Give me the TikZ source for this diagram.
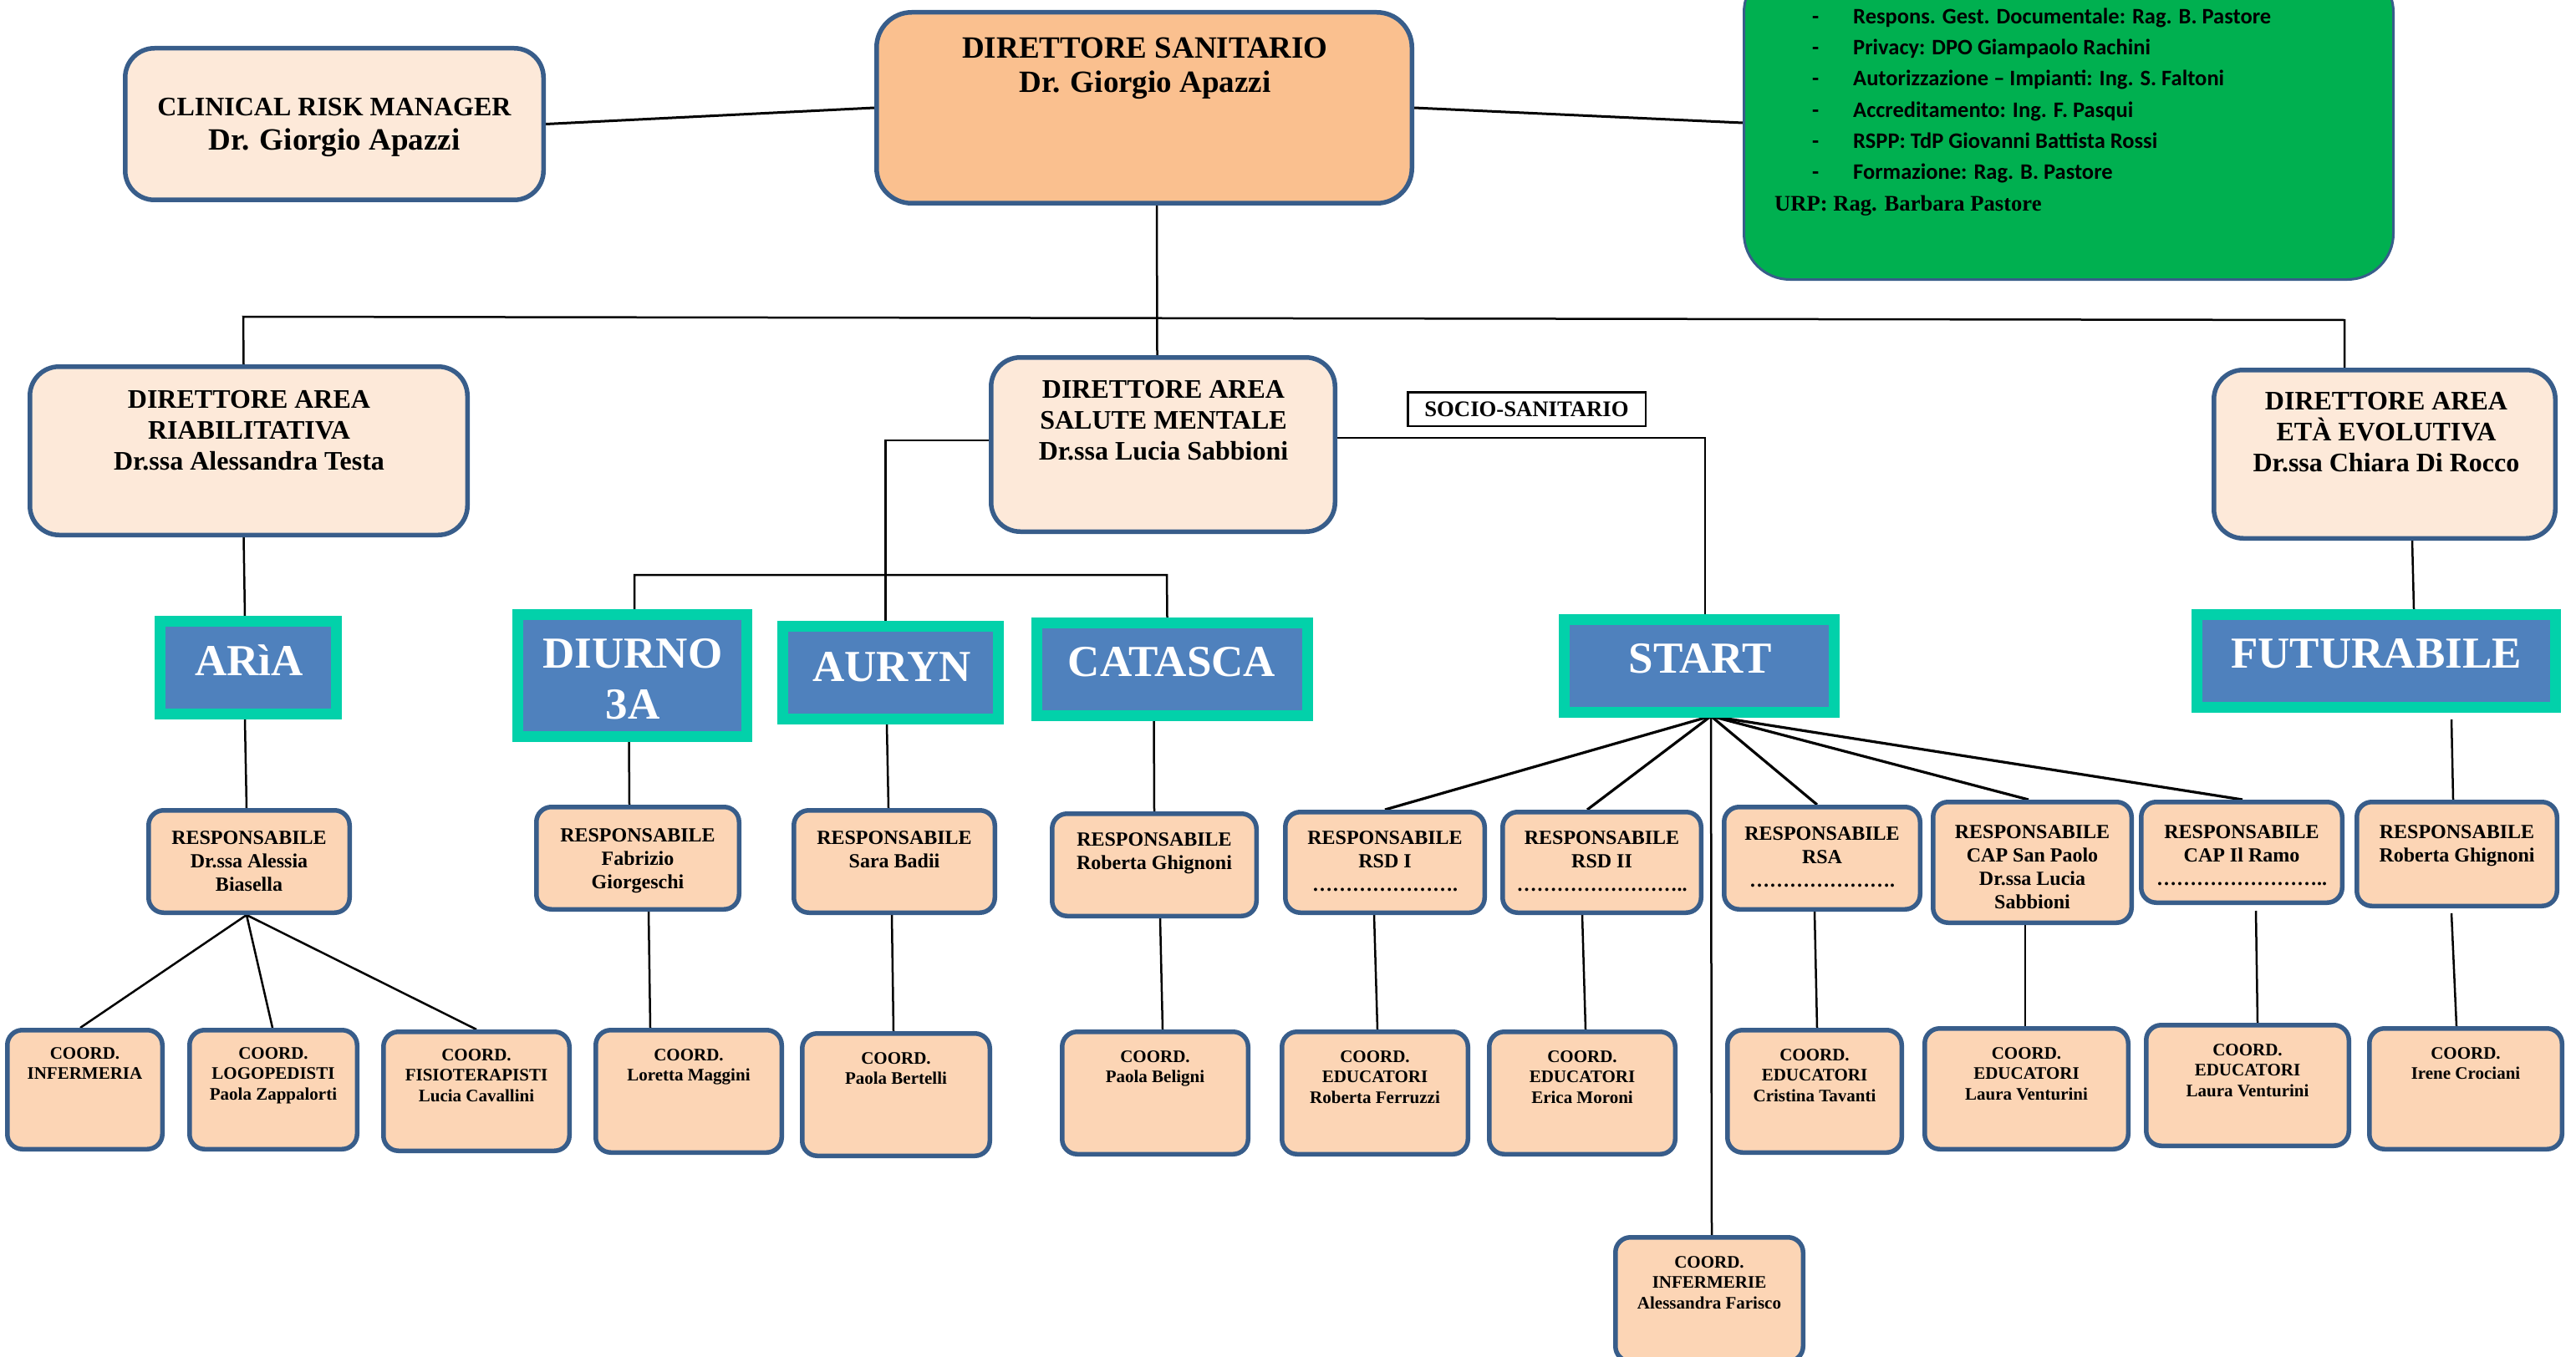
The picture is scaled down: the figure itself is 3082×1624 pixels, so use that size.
\documentclass[tikz,border=0pt]{standalone}
\usepackage{fontspec}
\setmainfont{Liberation Serif}
\newfontfamily\grfont{Carlito}
\usetikzlibrary{calc}
\pgfdeclarelayer{bg}
\pgfsetlayers{bg,main}
\definecolor{bordblue}{HTML}{385D8A}
\definecolor{palepeach}{HTML}{FDE9D9}
\definecolor{dspeach}{HTML}{FAC08F}
\definecolor{peach}{HTML}{FCD5B5}
\definecolor{tealb}{HTML}{02D1AA}
\definecolor{svcblue}{HTML}{4F81BD}
\definecolor{grn}{HTML}{00B050}
% style, name, x1, y1, x2, y2, line width
\newcommand\bx[7]{\node[#1, minimum width={#5-#3-#7}, minimum height={#6-#4-#7}] (#2) at ({(#3+#5)/2},{(#4+#6)/2}) {};}
\begin{document}
\begin{tikzpicture}[x=1pt,y=-1pt,
  topbox/.style={draw=bordblue,line width=5.5,fill=palepeach,rounded corners=35,inner sep=0},
  dsbox/.style={draw=bordblue,line width=5.5,fill=dspeach,rounded corners=42,inner sep=0},
  grbox/.style={draw=bordblue,line width=3,fill=grn,rounded corners=55,inner sep=0},
  rbox/.style={draw=bordblue,line width=5.5,fill=peach,rounded corners=18,inner sep=0},
  svc/.style={draw=tealb,fill=svcblue,line width=13,inner sep=0},
  socio/.style={draw=black,line width=2.5,fill=white,inner sep=0,font=\bfseries\fontsize{26.7}{30}\selectfont},
  conn/.style={draw=black,line width=2.5},
  conn3/.style={draw=black,line width=3},
  fanline/.style={draw=black,line width=3.2},
  bigt/.style={inner sep=0,align=center,anchor=north,font=\bfseries\fontsize{37}{41}\selectfont},
  areat/.style={inner sep=0,align=center,anchor=north,font=\bfseries\fontsize{32}{37}\selectfont},
  svct/.style={inner sep=0,align=center,text=white,font=\bfseries\fontsize{53}{61}\selectfont},
  rt/.style={inner sep=0,align=center,anchor=north,font=\bfseries\fontsize{24}{28}\selectfont},
  ct/.style={inner sep=0,align=center,anchor=north,font=\bfseries\fontsize{21}{24.5}\selectfont},
  grt/.style={inner sep=0,anchor=base west,font=\grfont\bfseries\fontsize{26.5}{37}\selectfont},
]
\path[use as bounding box] (0,0) rectangle (3082,1624);
\clip (0,0) rectangle (3082,1624);

% ---------- top row ----------
\bx{topbox}{crm}{147}{55}{653}{242}{5.5}
\bx{dsbox}{ds}{1046}{12}{1692}{246}{5.5}
\bx{grbox}{green}{2085}{-42}{2865}{336}{3}
\node[inner sep=0,anchor=base,font=\bfseries\fontsize{32}{37}\selectfont] (crm1) at (400,138.6) {CLINICAL RISK MANAGER};
\node[inner sep=0,anchor=base,font=\bfseries\fontsize{37}{41}\selectfont] (crm2) at (400,180) {Dr. Giorgio Apazzi};
\node[bigt] (dst) at (1370,44.7) {DIRETTORE SANITARIO\\Dr. Giorgio Apazzi};

\node[grt] (g1) at (2168,29) {\makebox[49pt][l]{-}Respons. Gest. Documentale: Rag. B. Pastore};
\node[grt] (g2) at (2168,66) {\makebox[49pt][l]{-}Privacy: DPO Giampaolo Rachini};
\node[grt] (g3) at (2168,103) {\makebox[49pt][l]{-}Autorizzazione – Impianti: Ing. S. Faltoni};
\node[grt] (g4) at (2168,141) {\makebox[49pt][l]{-}Accreditamento: Ing. F. Pasqui};
\node[grt] (g5) at (2168,178) {\makebox[49pt][l]{-}RSPP: TdP Giovanni Battista Rossi};
\node[grt] (g6) at (2168,215) {\makebox[49pt][l]{-}Formazione: Rag. B. Pastore};
\node[inner sep=0,anchor=base west,font=\bfseries\fontsize{26.6}{30}\selectfont] (urp) at (2123,253) {URP: Rag. Barbara Pastore};

% ---------- area directors ----------
\bx{topbox}{riab}{33}{436}{562}{643}{5.5}
\bx{topbox}{sm}{1183}{425}{1600}{639}{5.5}
\bx{topbox}{eta}{2646}{440}{3060}{647}{5.5}
\node[areat] (riabt) at (298,467) {DIRETTORE AREA\\RIABILITATIVA\\Dr.ssa Alessandra Testa};
\node[areat] (smt) at (1392,455) {DIRETTORE AREA\\SALUTE MENTALE\\Dr.ssa Lucia Sabbioni};
\node[areat] (etat) at (2855,469) {DIRETTORE AREA\\ETÀ EVOLUTIVA\\Dr.ssa Chiara Di Rocco};
\node[socio, minimum width=284.5, minimum height=40.5] (socio) at (1826.5,489.5) {SOCIO-SANITARIO};

% ---------- services ----------
\bx{svc}{aria}{185}{737}{409}{861}{13}
\bx{svc}{diurno}{613}{729}{900}{888}{13}
\bx{svc}{auryn}{930}{743}{1201}{867}{13}
\bx{svc}{catasca}{1234}{739}{1571}{863}{13}
\bx{svc}{start}{1865}{735}{2201}{859}{13}
\bx{svc}{futur}{2622}{729}{3064}{853}{13}
\node[svct] (ariat) at (298,790) {ARìA};
\node[svct,anchor=north] (diurnot) at (757,764.5) {DIURNO\\3A};
\node[svct] (aurynt) at (1067,798) {AURYN};
\node[svct] (catascat) at (1402,792) {CATASCA};
\node[svct] (startt) at (2034,788) {START};
\node[svct] (futurt) at (2843,782) {FUTURABILE};

% ---------- responsabili ----------
\bx{rbox}{r1}{175}{967}{421}{1095}{5.5}
\bx{rbox}{r2}{639}{963}{887}{1091}{5.5}
\bx{rbox}{r3}{947}{967}{1193}{1095}{5.5}
\bx{rbox}{r4}{1256}{971}{1506}{1099}{5.5}
\bx{rbox}{r5}{1535}{969}{1779}{1095}{5.5}
\bx{rbox}{r6}{1795}{969}{2038}{1095}{5.5}
\bx{rbox}{r7}{2060}{963}{2300}{1091}{5.5}
\bx{rbox}{r8}{2310}{957}{2553}{1107}{5.5}
\bx{rbox}{r9}{2559}{957}{2805}{1083}{5.5}
\bx{rbox}{r10}{2817}{957}{3062}{1087}{5.5}
\node[rt] (r1t) at (r1.center |- 0,994) {RESPONSABILE\\Dr.ssa Alessia\\Biasella};
\node[rt] (r2t) at (r2.center |- 0,991) {RESPONSABILE\\Fabrizio\\Giorgeschi};
\node[rt] (r3t) at (r3.center |- 0,994) {RESPONSABILE\\Sara Badii};
\node[rt] (r4t) at (r4.center |- 0,996) {RESPONSABILE\\Roberta Ghignoni};
\node[rt] (r5t) at (r5.center |- 0,994) {RESPONSABILE\\RSD I\\………………….};
\node[rt] (r6t) at (r6.center |- 0,994) {RESPONSABILE\\RSD II\\……………………..};
\node[rt] (r7t) at (r7.center |- 0,989) {RESPONSABILE\\RSA\\………………….};
\node[rt] (r8t) at (r8.center |- 0,987) {RESPONSABILE\\CAP San Paolo\\Dr.ssa Lucia\\Sabbioni};
\node[rt] (r9t) at (r9.center |- 0,987) {RESPONSABILE\\CAP Il Ramo\\……………………..};
\node[rt] (r10t) at (r10.center |- 0,987) {RESPONSABILE\\Roberta Ghignoni};

% ---------- coordinatori ----------
\bx{rbox}{c1}{6}{1230}{197}{1378}{5.5}
\bx{rbox}{c2}{224}{1230}{430}{1378}{5.5}
\bx{rbox}{c3}{456}{1232}{684}{1380}{5.5}
\bx{rbox}{c4}{710}{1230}{938}{1382}{5.5}
\bx{rbox}{c5}{957}{1234}{1187}{1386}{5.5}
\bx{rbox}{c6}{1268}{1232}{1496}{1384}{5.5}
\bx{rbox}{c7}{1531}{1232}{1759}{1384}{5.5}
\bx{rbox}{c8}{1779}{1232}{2007}{1384}{5.5}
\bx{rbox}{c9}{2064}{1230}{2278}{1382}{5.5}
\bx{rbox}{c10}{2300}{1228}{2549}{1378}{5.5}
\bx{rbox}{c11}{2565}{1224}{2813}{1374}{5.5}
\bx{rbox}{c12}{2832}{1228}{3068}{1378}{5.5}
\bx{rbox}{c13}{1930}{1478}{2160}{1632}{5.5}
\node[ct] (c1t) at (c1.center |- 0,1253) {COORD.\\INFERMERIA};
\node[ct] (c2t) at (c2.center |- 0,1253) {COORD.\\LOGOPEDISTI\\Paola Zappalorti};
\node[ct] (c3t) at (c3.center |- 0,1255) {COORD.\\FISIOTERAPISTI\\Lucia Cavallini};
\node[ct] (c4t) at (c4.center |- 0,1255) {COORD.\\Loretta Maggini};
\node[ct] (c5t) at (c5.center |- 0,1259) {COORD.\\Paola Bertelli};
\node[ct] (c6t) at (c6.center |- 0,1257) {COORD.\\Paola Beligni};
\node[ct] (c7t) at (c7.center |- 0,1257) {COORD.\\EDUCATORI\\Roberta Ferruzzi};
\node[ct] (c8t) at (c8.center |- 0,1257) {COORD.\\EDUCATORI\\Erica Moroni};
\node[ct] (c9t) at (c9.center |- 0,1255) {COORD.\\EDUCATORI\\Cristina Tavanti};
\node[ct] (c10t) at (c10.center |- 0,1253) {COORD.\\EDUCATORI\\Laura Venturini};
\node[ct] (c11t) at (c11.center |- 0,1249) {COORD.\\EDUCATORI\\Laura Venturini};
\node[ct] (c12t) at (c12.center |- 0,1253) {COORD.\\Irene Crociani};
\node[ct] (c13t) at (c13.center |- 0,1503) {COORD.\\INFERMERIE\\Alessandra Farisco};

% ---------- connectors ----------
\coordinate (busL) at (291,379);
\coordinate (busR) at (2805,383);
\coordinate (bus2L) at (759,688);
\coordinate (bus2R) at (1396,688);
\coordinate (fan) at ($(start.south)+(14,-2)$);
\begin{pgfonlayer}{bg}
\draw[conn3] (crm.east) -- (ds.west);
\draw[conn3] (ds.east) -- (green.west);
\draw[conn] ($(ds.south)+(15,0)$) -- ($(sm.north)+(-7,0)$);
\draw[conn] ($(riab.north)+(-6,0)$) -- (busL) -- (busR) -- ($(eta.north)+(-48,0)$);
\draw[conn] ($(riab.south)+(-6,0)$) -- ($(aria.north)+(-4,0)$);
\draw[conn] ($(sm.west)+(0,-5)$) -| ($(auryn.north)+(-6,0)$);
\draw[conn] ($(diurno.north)+(2.5,0)$) -- (bus2L) -- (bus2R) -- ($(catasca.north)+(-6,0)$);
\draw[conn] ($(sm.east)+(0,-8)$) -| ($(start.north)+(7,0)$);
\draw[conn] ($(eta.south)+(33,0)$) -- ($(futur.north)+(45,0)$);
% services to responsabili
\draw[conn] ($(aria.south)+(-4,0)$) -- ($(r1.north)+(-3,0)$);
\draw[conn] ($(diurno.south)+(-4,0)$) -- ($(r2.north)+(-10,0)$);
\draw[conn] ($(auryn.south)+(-4.5,0)$) -- ($(r3.north)+(-7,0)$);
\draw[conn] ($(catasca.south)+(-22,0)$) -- (r4.north);
\draw[fanline] (fan) -- (r5.north);
\draw[fanline] (fan) -- ($(r6.north)+(-17.5,0)$);
\draw[fanline] (fan) -- ($(r7.north)+(-6,0)$);
\draw[fanline] (fan) -- ($(r8.north)+(-4.5,0)$);
\draw[fanline] (fan) -- ($(r9.north)+(1,0)$);
\draw[conn] (fan) -- ($(c13.north)+(3,0)$);
\draw[conn] ($(futur.south)+(90,8)$) -- ($(r10.north)+(-4.5,0)$);
% responsabili to coordinatori
\draw[conn] ($(r1.south)+(-3,0)$) -- ($(c1.north)+(-5.5,0)$);
\draw[conn] ($(r1.south)+(-3,0)$) -- ($(c2.north)+(-1,0)$);
\draw[conn] ($(r1.south)+(-3,0)$) -- (c3.north);
\draw[conn] ($(r2.south)+(13,0)$) -- ($(c4.north)+(-46,0)$);
\draw[conn] ($(r3.south)+(-3,0)$) -- ($(c5.north)+(-3,0)$);
\draw[conn] ($(r4.south)+(7,0)$) -- ($(c6.north)+(9,0)$);
\draw[conn] ($(r5.south)+(-13,0)$) -- ($(c7.north)+(3,0)$);
\draw[conn] ($(r6.south)+(-23.5,0)$) -- ($(c8.north)+(4,0)$);
\draw[conn] ($(r7.south)+(-9,0)$) -- ($(c9.north)+(3,0)$);
\draw[conn] ($(r8.south)+(-8.5,0)$) -- ($(c10.north)+(-1.5,0)$);
\draw[conn] ($(r9.south)+(17,7)$) -- ($(c11.north)+(12,0)$);
\draw[conn] ($(r10.south)+(-6.5,6)$) -- ($(c12.north)+(-11,0)$);
\end{pgfonlayer}
\end{tikzpicture}
\end{document}
